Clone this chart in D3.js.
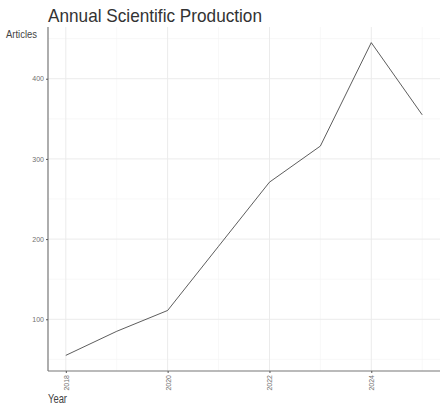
<!DOCTYPE html>
<html>
<head>
<meta charset="utf-8">
<script src="https://cdn.jsdelivr.net/npm/d3@7"></script>
<style>
  body { margin: 0; background: #fff; }
  text { font-family: "Liberation Sans Narrow", "Liberation Sans", Arial, sans-serif; }
</style>
</head>
<body>
<svg width="440" height="406"></svg>
<script>
const years = [2018, 2019, 2020, 2021, 2022, 2023, 2024, 2025];
const articles = [55, 85, 111, 191, 271, 316, 445, 355];
const yTicks = [100, 200, 300, 400];
const yMinor = [50, 150, 250, 350, 450];
const xTicks = [2018, 2020, 2022, 2024];
const xMinor = [2019, 2021, 2023, 2025];

const M = { left: 48, right: 440, top: 27, bottom: 371 };

const svg = d3.select("svg");

// ggplot-like expansion of 5%
const yExt = d3.extent(articles);
const yPad = (yExt[1] - yExt[0]) * 0.05;
const y = d3.scaleLinear()
  .domain([yExt[0] - yPad, yExt[1] + yPad])
  .range([M.bottom, M.top]);

const xExt = d3.extent(years);
const xPad = (xExt[1] - xExt[0]) * 0.05;
const x = d3.scaleLinear()
  .domain([xExt[0] - xPad, xExt[1] + xPad])
  .range([M.left, M.right]);

const grid = svg.append("g");
// minor grid
grid.selectAll(".ymin").data(yMinor.filter(v => y(v) >= M.top && y(v) <= M.bottom)).join("line")
  .attr("x1", M.left).attr("x2", M.right)
  .attr("y1", d => y(d)).attr("y2", d => y(d))
  .attr("stroke", "#f3f3f3").attr("stroke-width", 0.6);
grid.selectAll(".xmin").data(xMinor).join("line")
  .attr("x1", d => x(d)).attr("x2", d => x(d))
  .attr("y1", M.top).attr("y2", M.bottom)
  .attr("stroke", "#f3f3f3").attr("stroke-width", 0.6);
// major grid
grid.selectAll(".ymaj").data(yTicks).join("line")
  .attr("x1", M.left).attr("x2", M.right)
  .attr("y1", d => y(d)).attr("y2", d => y(d))
  .attr("stroke", "#ebebeb").attr("stroke-width", 1);
grid.selectAll(".xmaj").data(xTicks).join("line")
  .attr("x1", d => x(d)).attr("x2", d => x(d))
  .attr("y1", M.top).attr("y2", M.bottom)
  .attr("stroke", "#ebebeb").attr("stroke-width", 1);

// line
svg.append("path")
  .datum(years.map((yr, i) => [yr, articles[i]]))
  .attr("fill", "none")
  .attr("stroke", "#333")
  .attr("stroke-width", 0.8)
  .attr("d", d3.line().x(d => x(d[0])).y(d => y(d[1])));

// axes
const yAxis = svg.append("g")
  .attr("transform", `translate(${M.left},0)`)
  .call(d3.axisLeft(y).tickValues(yTicks).tickSize(2).tickPadding(2));
const xAxis = svg.append("g")
  .attr("transform", `translate(0,${M.bottom})`)
  .call(d3.axisBottom(x).tickValues(xTicks).tickFormat(d3.format("d")).tickSize(2));

[yAxis, xAxis].forEach(g => {
  g.select(".domain").attr("stroke", "#777").attr("stroke-width", 1.2);
  g.selectAll(".tick line").attr("stroke", "#555");
  g.selectAll(".tick text").attr("fill", "#6f6f6f").style("font-size", "7px");
});
yAxis.select(".domain").attr("d", `M0,${M.top}V${M.bottom}`);
xAxis.select(".domain").attr("d", `M${M.left},0H${M.right}`);

xAxis.selectAll(".tick text")
  .attr("transform", "rotate(-90)")
  .attr("x", -4).attr("y", 0).attr("dy", "0.35em")
  .attr("text-anchor", "end");

// titles
svg.append("text")
  .attr("x", M.left).attr("y", 22)
  .attr("fill", "#333").style("font-size", "19px")
  .attr("textLength", 214).attr("lengthAdjust", "spacingAndGlyphs")
  .text("Annual Scientific Production");
svg.append("text")
  .attr("x", 6).attr("y", 38)
  .attr("fill", "#444").style("font-size", "11px")
  .attr("textLength", 31).attr("lengthAdjust", "spacingAndGlyphs")
  .text("Articles");
svg.append("text")
  .attr("x", M.left).attr("y", 403)
  .attr("fill", "#444").style("font-size", "13px")
  .attr("textLength", 19).attr("lengthAdjust", "spacingAndGlyphs")
  .text("Year");
</script>
</body>
</html>
